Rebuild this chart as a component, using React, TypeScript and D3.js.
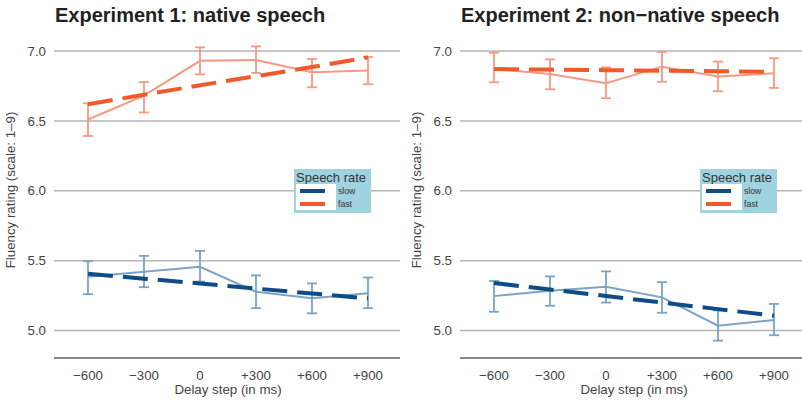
import * as React from 'react';
import * as d3 from 'd3';

// delay steps (ms)
const delays = [-600, -300, 0, 300, 600, 900];
const delayLabels = ['\u2212600', '\u2212300', '0', '+300', '+600', '+900'];
const yTicks = [5.0, 5.5, 6.0, 6.5, 7.0];

// Experiment 1: native speech
const exp1FastMean = [6.51, 6.68, 6.93, 6.936, 6.848, 6.86];
const exp1FastLow = [6.392, 6.56, 6.833, 6.843, 6.74, 6.762];
const exp1FastHigh = [6.626, 6.778, 7.026, 7.033, 6.943, 6.957];
const exp1FastFit = [6.619, 6.687, 6.755, 6.82, 6.885, 6.955];
const exp1SlowMean = [5.384, 5.42, 5.456, 5.277, 5.23, 5.266];
const exp1SlowLow = [5.26, 5.31, 5.35, 5.16, 5.123, 5.16];
const exp1SlowHigh = [5.496, 5.534, 5.57, 5.394, 5.337, 5.38];
const exp1SlowFit = [5.406, 5.371, 5.337, 5.3, 5.265, 5.23];

// Experiment 2: non-native speech
const exp2FastMean = [6.871, 6.836, 6.77, 6.888, 6.817, 6.84];
const exp2FastLow = [6.776, 6.726, 6.662, 6.78, 6.712, 6.736];
const exp2FastHigh = [6.988, 6.94, 6.883, 6.993, 6.924, 6.948];
const exp2FastFit = [6.871, 6.867, 6.863, 6.859, 6.855, 6.851];
const exp2SlowMean = [5.246, 5.284, 5.313, 5.237, 5.034, 5.075];
const exp2SlowLow = [5.134, 5.177, 5.2, 5.127, 4.927, 4.966];
const exp2SlowHigh = [5.354, 5.387, 5.423, 5.346, 5.144, 5.19];
const exp2SlowFit = [5.34, 5.293, 5.247, 5.2, 5.153, 5.106];

const FAST_OBS = '#f79882';
const FAST_FIT = '#f05a2b';
const SLOW_OBS = '#7ba3c6';
const SLOW_FIT = '#0d4c86';
const FONT = '"Liberation Sans", Arial, Helvetica, sans-serif';

type Series = { mean: number[]; low: number[]; high: number[]; fit: number[] };

const y = d3.scaleLinear().domain([5, 7]).range([330.5, 51]);

const Panel = ({ left, title, fast, slow }: { left: number; title: string; fast: Series; slow: Series }) => {
  const width = 346;
  const x = d3.scaleLinear().domain([-600, 900]).range([left + 34, left + 314]);
  const line = d3
    .line<number>()
    .x((_, i) => x(delays[i]))
    .y(d => y(d));

  const drawObs = (s: Series, color: string) => (
    <g>
      <path d={line(s.mean) || ''} fill="none" stroke={color} strokeWidth={2} />
      {delays.map((d, i) => (
        <g key={d} stroke={color} strokeWidth={1.8}>
          <line x1={x(d)} x2={x(d)} y1={y(s.low[i])} y2={y(s.high[i])} />
          <line x1={x(d) - 5} x2={x(d) + 5} y1={y(s.low[i])} y2={y(s.low[i])} />
          <line x1={x(d) - 5} x2={x(d) + 5} y1={y(s.high[i])} y2={y(s.high[i])} />
        </g>
      ))}
    </g>
  );

  const drawFit = (s: Series, color: string) => (
    <path d={line(s.fit) || ''} fill="none" stroke={color} strokeWidth={4} strokeDasharray="25 10" />
  );

  const lx = left + 240;
  return (
    <g fontFamily={FONT}>
      <text x={left + 1} y={22} fontSize={20} fontWeight="bold" fill="#222">
        {title}
      </text>
      {yTicks.map(t => (
        <g key={t}>
          <line x1={left} x2={left + width} y1={y(t)} y2={y(t)} stroke="#b4b4b4" strokeWidth={1.5} />
          <text x={left - 8} y={y(t)} dy="0.35em" textAnchor="end" fontSize={13.3} fill="#444">
            {t.toFixed(1)}
          </text>
        </g>
      ))}
      <line x1={left} x2={left + width} y1={358} y2={358} stroke="#111" strokeWidth={1} />
      {delays.map((d, i) => (
        <text key={d} x={x(d)} y={380} textAnchor="middle" fontSize={13.3} fill="#444">
          {delayLabels[i]}
        </text>
      ))}
      <text x={x(150)} y={394} textAnchor="middle" fontSize={13.3} fill="#444">
        Delay step (in ms)
      </text>
      <text
        transform={`translate(${left - 39},190) rotate(-90)`}
        textAnchor="middle"
        fontSize={13.3}
        fill="#444"
      >
        Fluency rating (scale: 1–9)
      </text>

      {drawObs(fast, FAST_OBS)}
      {drawFit(fast, FAST_FIT)}
      {drawObs(slow, SLOW_OBS)}
      {drawFit(slow, SLOW_FIT)}

      <rect x={lx} y={169} width={77} height={44} fill="#a0d3df" />
      <text x={lx + 2} y={182} fontSize={13} fill="#333">
        Speech rate
      </text>
      <rect x={lx + 2} y={184} width={40} height={26} fill="#fff" />
      <line x1={lx + 6} x2={lx + 31} y1={191} y2={191} stroke={SLOW_FIT} strokeWidth={4} />
      <line x1={lx + 6} x2={lx + 31} y1={204} y2={204} stroke={FAST_FIT} strokeWidth={4} />
      <text x={lx + 44} y={194} fontSize={8.7} fill="#333">
        slow
      </text>
      <text x={lx + 44} y={207} fontSize={8.7} fill="#333">
        fast
      </text>
    </g>
  );
};

const App = () => {
  return (
    <svg
      width={802}
      height={400}
      style={{ position: 'absolute', left: 0, top: 0, background: '#fff' }}
    >
      <rect width={802} height={400} fill="#fff" />
      <Panel
        left={54}
        title="Experiment 1: native speech"
        fast={{ mean: exp1FastMean, low: exp1FastLow, high: exp1FastHigh, fit: exp1FastFit }}
        slow={{ mean: exp1SlowMean, low: exp1SlowLow, high: exp1SlowHigh, fit: exp1SlowFit }}
      />
      <Panel
        left={460}
        title="Experiment 2: non−native speech"
        fast={{ mean: exp2FastMean, low: exp2FastLow, high: exp2FastHigh, fit: exp2FastFit }}
        slow={{ mean: exp2SlowMean, low: exp2SlowLow, high: exp2SlowHigh, fit: exp2SlowFit }}
      />
    </svg>
  );
};

export default App;
